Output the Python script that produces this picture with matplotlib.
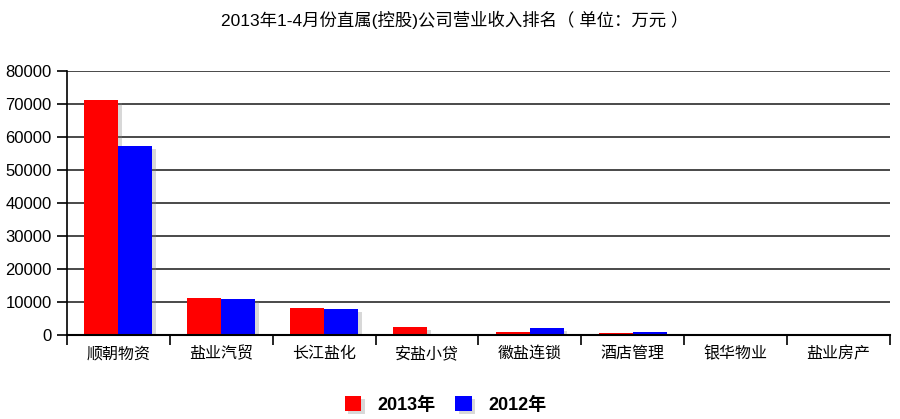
import matplotlib
matplotlib.use('Agg')
import matplotlib.pyplot as plt
import matplotlib.patheffects as pe
import numpy as np

plt.rcParams['font.family'] = ['Liberation Sans', 'Noto Sans CJK SC', 'DejaVu Sans']

# data (unit: 10k yuan)
companies = ['顺朝物资', '盐业汽贸', '长江盐化', '安盐小贷', '徽盐连锁', '酒店管理', '银华物业', '盐业房产']
rev_2013 = [71200, 11300, 8100, 2300, 800, 500, 300, 0]
rev_2012 = [57300, 10900, 7900, 0, 2200, 800, 250, 0]
series_names = ['2013年', '2012年']
title = '2013年1-4月份直属(控股)公司营业收入排名（ 单位：万元 ）'

fig = plt.figure(figsize=(9, 4.19), dpi=100)
ax = fig.add_axes([67/900, 1-335/419, (890-67)/900, (335-71)/419])

x = np.arange(len(companies)) + 0.5
w = 0.33
shadow = [pe.SimplePatchShadow(offset=(2.5, -2), alpha=0.3, shadow_rgbFace='gray'), pe.Normal()]
b1 = ax.bar(x - w/2, rev_2013, w, color='#ff0000', label=series_names[0], zorder=3)
b2 = ax.bar(x + w/2, rev_2012, w, color='#0000ff', label=series_names[1], zorder=3)
for b in list(b1) + list(b2):
    b.set_path_effects(shadow)

ax.set_xlim(0, len(companies))
ax.set_ylim(0, 80000)
ax.set_yticks(np.arange(0, 80001, 10000))
ax.set_xticks(np.arange(0, len(companies) + 1))
ax.set_xticklabels([])
ax.set_xticks(x, minor=True)
ax.set_xticklabels(companies, minor=True, fontsize=11.5)
ax.tick_params(axis='x', which='minor', length=0, pad=8)
ax.tick_params(axis='x', which='major', length=7, width=1.2, direction='out')
ax.tick_params(axis='y', length=7, width=1.2, direction='out', labelsize=12, pad=4)

ax.grid(axis='y', color='#3a3a3a', linewidth=1.3, zorder=1)
ax.set_axisbelow(True)
for s in ['top', 'right']:
    ax.spines[s].set_visible(False)
ax.spines['left'].set_linewidth(1.2)
ax.spines['bottom'].set_linewidth(1.5)
ax.spines['bottom'].set_zorder(4)

fig.text(455/900, 1-20/419, title, ha='center', va='center', fontsize=12.5)

leg = fig.legend(loc='center', bbox_to_anchor=(0.495, 1-405/419), ncol=2, frameon=False,
                 handlelength=0.9, handleheight=0.9, handletextpad=0.9, columnspacing=1.1,
                 prop={'weight': 'bold', 'size': 13})
for h in leg.legend_handles:
    h.set_path_effects(shadow)

fig.savefig('out.png', dpi=100, facecolor='white')
